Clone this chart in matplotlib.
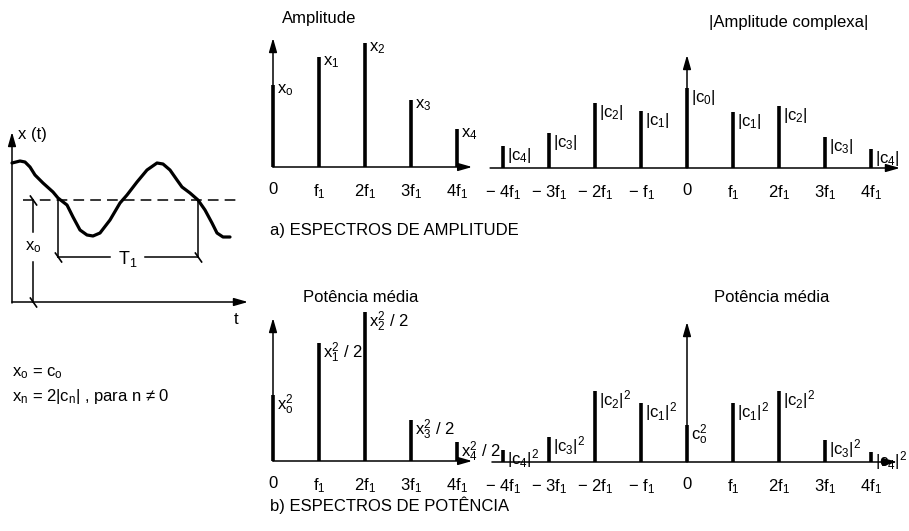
import numpy as np
import matplotlib
matplotlib.use("Agg")
import matplotlib.pyplot as plt

plt.rcParams['font.family'] = ['Liberation Sans', 'DejaVu Sans']
plt.rcParams['mathtext.fontset'] = 'custom'
plt.rcParams['mathtext.rm'] = 'Liberation Sans'
plt.rcParams['mathtext.it'] = 'Liberation Sans'
plt.rcParams['mathtext.sf'] = 'Liberation Sans'

# === Data (heights, arbitrary units) ===
harm = [0, 1, 2, 3, 4]
harm_ticks = ["0", "f$_1$", "2f$_1$", "3f$_1$", "4f$_1$"]
amp = [82, 110, 124, 67, 38]
amp_lbl = ["x$_o$", "x$_1$", "x$_2$", "x$_3$", "x$_4$"]

harm2 = [-4, -3, -2, -1, 0, 1, 2, 3, 4]
harm2_ticks = ["\u2212 4f$_1$", "\u2212 3f$_1$", "\u2212 2f$_1$", "\u2212 f$_1$", "0",
               "f$_1$", "2f$_1$", "3f$_1$", "4f$_1$"]
camp = [22, 35, 65, 57, 80, 56, 62, 31, 19]
camp_lbl = ["|c$_4$|", "|c$_3$|", "|c$_2$|", "|c$_1$|", "|c$_0$|",
            "|c$_1$|", "|c$_2$|", "|c$_3$|", "|c$_4$|"]

pw = [66, 118, 149, 41, 19]
pw_lbl = ["x$_o^2$", "x$_1^2$ / 2", "x$_2^2$ / 2", "x$_3^2$ / 2", "x$_4^2$ / 2"]

cpw = [12, 25, 71, 59, 37, 59, 71, 22, 10]
cpw_lbl = ["|c$_4$|$^2$", "|c$_3$|$^2$", "|c$_2$|$^2$", "|c$_1$|$^2$", "c$_o^2$",
           "|c$_1$|$^2$", "|c$_2$|$^2$", "|c$_3$|$^2$", "|c$_4$|$^2$"]

# periodic signal x(t), traced by hand
t_sig = [0, 8, 13, 18, 23, 31, 41, 46, 55, 61, 68, 75, 81, 88, 98, 108, 115,
         125, 135, 145, 151, 158, 165, 170, 178, 186, 193, 200, 205, 211, 218]
x_sig = [139, 141, 140, 135, 127, 119, 110, 104, 97, 85, 72, 67, 66, 69, 82, 99,
         107, 120, 132, 139, 138, 132, 122, 115, 109, 102, 92, 79, 69, 65, 65]
x_mean = 102
t_per = [46, 186]

W, H = 909, 531
fig = plt.figure(figsize=(W / 100, H / 100), dpi=100)


def panel(x0, y0, dx, xlim, ylim):
    # axes placed so that data (0,0) lands on pixel (x0, y0)
    left = x0 + xlim[0] * dx
    right = x0 + xlim[1] * dx
    bot = y0 - ylim[0]
    top = y0 - ylim[1]
    ax = fig.add_axes([left / W, 1 - bot / H, (right - left) / W, (bot - top) / H])
    ax.set_xlim(xlim)
    ax.set_ylim(ylim)
    for s in ax.spines.values():
        s.set_visible(False)
    ax.set_yticks([])
    ax.tick_params(length=0, labelsize=12, pad=11)
    ax.patch.set_alpha(0)
    return ax


def arrow(ax, x0, y0, x1, y1):
    ax.annotate("", xy=(x1, y1), xytext=(x0, y0), annotation_clip=False,
                arrowprops=dict(arrowstyle="-|>,head_length=0.7,head_width=0.2",
                                color="k", lw=1.1, mutation_scale=12,
                                shrinkA=0, shrinkB=0))


def spectrum(ax, xs, vals, labels, ticks, xaxis, ytop, dy):
    arrow(ax, xaxis[0], 0, xaxis[1], 0)
    arrow(ax, 0, 0, 0, ytop)
    ax.vlines(xs, 0, vals, color="k", lw=2.6)
    for x, v, s in zip(xs, vals, labels):
        ax.annotate(s, (x, v), xytext=(3, dy), textcoords="offset points",
                    ha="left", va="top", fontsize=12)
    ax.set_xticks(xs)
    ax.set_xticklabels(ticks)


# a) amplitude spectra
axA = panel(273, 167, 46, (-0.3, 4.5), (0, 140))
spectrum(axA, harm, amp, amp_lbl, harm_ticks, (0, 4.33), 129, 2)
axB = panel(687, 168, 46, (-4.4, 4.8), (0, 125))
spectrum(axB, harm2, camp, camp_lbl, harm2_ticks, (-4.28, 4.63), 113, 0)

# b) power spectra
axC = panel(273, 461, 46, (-0.3, 4.5), (0, 155))
spectrum(axC, harm, pw, pw_lbl, harm_ticks, (0, 4.33), 143, 2)
axD = panel(687, 462, 46, (-4.4, 4.8), (0, 150))
spectrum(axD, harm2, cpw, cpw_lbl, harm2_ticks, (-4.24, 4.57), 140, 2)

# signal panel
axS = panel(12, 302, 1, (-8, 240), (-30, 178))
axS.set_xticks([])
arrow(axS, 0, -1, 0, 170)
arrow(axS, 0, 0, 236, 0)
axS.plot(t_sig, x_sig, color="k", lw=2.3, solid_capstyle="round")
axS.plot([11, 226], [x_mean, x_mean], color="k", lw=1.1, dashes=(7, 4))
axS.plot([21, 21], [x_mean, 70], color="k", lw=1.1)
axS.plot([21, 21], [40, 0], color="k", lw=1.1)
axS.text(21, 55, "x$_o$", ha="center", va="center", fontsize=12)
for tp in t_per:
    axS.plot([tp, tp], [x_mean, 45], color="k", lw=1.1)
axS.plot([t_per[0], 98], [45, 45], color="k", lw=1.1)
axS.plot([133, t_per[1]], [45, 45], color="k", lw=1.1)
axS.text(116, 43, "T$_1$", ha="center", va="center", fontsize=13)
axS.plot([21, 21, t_per[0], t_per[1]], [x_mean, 0, 45, 45], ls="none",
         marker=(2, 0, 35), ms=9, mec="k", mew=1.2)
axS.text(6, 167, "x (t)", ha="left", va="center", fontsize=12)
axS.text(224, -18, "t", ha="center", va="center", fontsize=12)


def ftext(px, py, s, **kw):
    fig.text(px / W, 1 - py / H, s, va="center", fontsize=12, **kw)


ftext(282, 18, "Amplitude")
ftext(789, 23, "|Amplitude complexa|", ha="center")
ftext(270, 230, "a) ESPECTROS DE AMPLITUDE")
ftext(361, 297, "Potência média", ha="center")
ftext(772, 297, "Potência média", ha="center")
ftext(270, 505, "b) ESPECTROS DE POTÊNCIA")
ftext(12, 373, "x$_o$ = c$_o$")
ftext(12, 397, "x$_n$ = 2|c$_n$| , para n \u2260 0")

fig.savefig("out.png", dpi=100)
